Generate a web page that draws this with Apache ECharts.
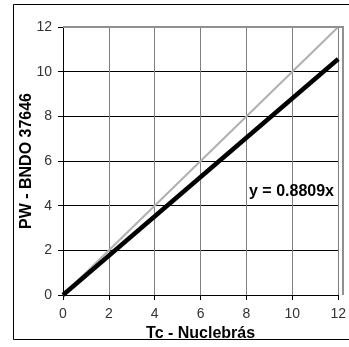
<!DOCTYPE html>
<html>
<head>
<meta charset="utf-8">
<script src="https://cdn.jsdelivr.net/npm/echarts@6/dist/echarts.min.js"></script>
<style>
  html, body { margin: 0; padding: 0; background: #fff; }
  #chart { width: 349px; height: 347px; }
</style>
</head>
<body>
<div id="chart"></div>
<script>
// x values for both lines
const xValues = [0, 12]
// 1:1 reference line
const oneToOne = [0, 12]
// fitted trend y = 0.8809x
const trend = [0, 10.57]
const trendLabel = 'y = 0.8809x'
const tickValues = [0, 2, 4, 6, 8, 10, 12]

const chart = echarts.init(document.getElementById('chart'))

const font = 'Liberation Sans, Arial, sans-serif'

const option = {
  animation: false,
  backgroundColor: '#fff',
  grid: { left: 63, right: 6, top: 27, bottom: 52 },
  xAxis: {
    type: 'value',
    min: tickValues[0],
    max: tickValues[tickValues.length - 1],
    interval: 2,
    name: 'Tc - Nuclebrás',
    nameLocation: 'middle',
    nameGap: 28,
    nameTextStyle: { fontFamily: font, fontWeight: 'bold', fontSize: 16, color: '#000' },
    axisLine: { show: true, onZero: false, lineStyle: { color: '#000', width: 1 } },
    axisTick: { show: true, length: 5, lineStyle: { color: '#000' } },
    axisLabel: { fontFamily: font, fontSize: 14, color: '#333', margin: 12 },
    splitLine: { show: true, lineStyle: { color: '#808080', width: 1 } }
  },
  yAxis: {
    type: 'value',
    min: tickValues[0],
    max: tickValues[tickValues.length - 1],
    interval: 2,
    name: 'PW - BNDO 37646',
    nameLocation: 'middle',
    nameGap: 28,
    nameMoveOverlap: false,
    nameTextStyle: { fontFamily: font, fontWeight: 'bold', fontSize: 16, color: '#000' },
    axisLine: { show: true, onZero: false, lineStyle: { color: '#000', width: 1 } },
    axisTick: { show: true, length: 5, lineStyle: { color: '#000' } },
    axisLabel: { fontFamily: font, fontSize: 14, color: '#333', margin: 11 },
    splitLine: { show: true, lineStyle: { color: '#000', width: 1 } }
  },
  series: [
    {
      type: 'line',
      data: xValues.map((x, i) => [x, oneToOne[i]]),
      symbol: 'none',
      lineStyle: { color: '#b0b0b0', width: 2 },
      z: 3
    },
    {
      type: 'line',
      data: xValues.map((x, i) => [x, trend[i]]),
      symbol: 'none',
      lineStyle: { color: '#000', width: 4.5 },
      z: 4
    }
  ],
  graphic: [
    // outer chart frame
    {
      type: 'rect',
      shape: { x: 13.5, y: 4.5, width: 400, height: 335 },
      style: { fill: 'none', stroke: '#000', lineWidth: 1 },
      z: 0
    },
    // gray top and right border of the plot area
    {
      type: 'polyline',
      shape: { points: [[63, 27], [343, 27], [343, 295]] },
      style: { fill: 'none', stroke: '#909090', lineWidth: 2 },
      z: 10
    },
    {
      type: 'text',
      left: 249,
      top: 184,
      style: { text: trendLabel, fontFamily: font, fontWeight: 'bold', fontSize: 16, fill: '#000' },
      z: 10
    }
  ]
}

chart.setOption(option)
</script>
</body>
</html>
